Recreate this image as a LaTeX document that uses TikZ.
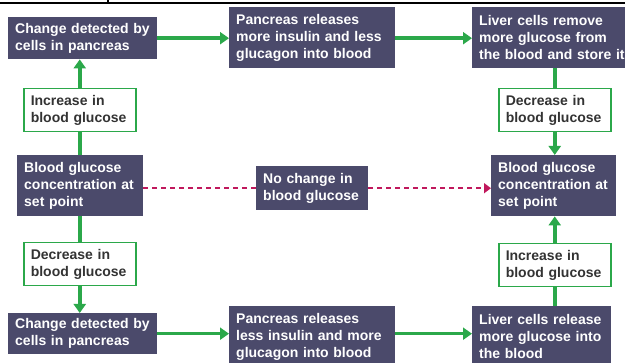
\documentclass[tikz,border=0pt]{standalone}
\usepackage{fontspec}
\setmainfont{Liberation Sans}
\usetikzlibrary{arrows.meta}
\definecolor{slate}{HTML}{4B4A6B}
\definecolor{leafgreen}{HTML}{2BA84A}
\definecolor{berry}{HTML}{C0185C}
\tikzset{
  dark/.style={fill=slate, text=white, anchor=north west, align=left, inner xsep=7pt, inner ysep=0pt, font=\bfseries\fontsize{14}{17}\selectfont},
  change/.style={draw=leafgreen, line width=1.5pt, fill=white, text=black!80, anchor=north west, align=left, inner xsep=7pt, inner ysep=0pt, text width=98pt, minimum height=43pt, font=\bfseries\fontsize{14}{17}\selectfont},
  flow/.style={leafgreen, line width=3.5pt, -{Triangle[width=12pt,length=9pt]}},
  link/.style={leafgreen, line width=3.5pt},
  steady/.style={berry, line width=1.8pt, dash pattern=on 5pt off 4pt}
}

\begin{document}
\begin{tikzpicture}[x=1pt,y=-1pt]
    \clip (0,0) rectangle (625,363);
    \draw [line width=2pt] (0,3) -- (625,3);
    \draw [line width=1.5pt] (108,0) -- (108,4);

    \node (detUp) [dark, text width=135pt, minimum height=42pt] at (8,17) {Change detected by\\cells in pancreas};
    \node (panUp) [dark, text width=152pt, minimum height=61pt] at (229,7) {Pancreas releases\\more insulin and less\\glucagon into blood};
    \node (livUp) [dark, text width=146pt, minimum height=61pt] at (472,7) {Liver cells remove\\more glucose from\\the blood and store it};
    \node (incL) [change] at (23,88) {Increase in\\blood glucose};
    \node (decR) [change] at (498,88) {Decrease in\\blood glucose};
    \node (setL) [dark, text width=112pt, minimum height=61pt] at (17,155) {Blood glucose\\concentration at\\set point};
    \node (same) [dark, text width=98pt, minimum height=44pt] at (256,166) {No change in\\blood glucose};
    \node (setR) [dark, text width=111pt, minimum height=61pt] at (491,155) {Blood glucose\\concentration at\\set point};
    \node (decL) [change] at (23,242) {Decrease in\\blood glucose};
    \node (incR) [change] at (498,243) {Increase in\\blood glucose};
    \node (detDn) [dark, text width=135pt, minimum height=41pt] at (8,313) {Change detected by\\cells in pancreas};
    \node (panDn) [dark, text width=152pt, minimum height=61pt] at (229,306) {Pancreas releases\\less insulin and more\\glucagon into blood};
    \node (livDn) [dark, text width=125pt, minimum height=61pt] at (472,306) {Liver cells release\\more glucose into\\the blood};

    \draw [flow] (detUp.east) -- (detUp.east -| panUp.west);
    \draw [flow] (panUp.east |- detUp.east) -- (detUp.east -| livUp.west);
    \draw [link] (decR.north) -- (decR.north |- livUp.south);
    \draw [flow] (decR.south) -- (decR.south |- setR.north);

    \draw [link] (setL.north -| incL.south) -- (incL.south);
    \draw [flow] (incL.north) -- (incL.north |- detUp.south);
    \draw [link] (setL.south -| decL.north) -- (decL.north);
    \draw [flow] (decL.south) -- (decL.south |- detDn.north);

    \draw [flow] (detDn.east) -- (detDn.east -| panDn.west);
    \draw [flow] (panDn.east |- detDn.east) -- (detDn.east -| livDn.west);
    \draw [link] (incR.south) -- (incR.south |- livDn.north);
    \draw [flow] (incR.north) -- (incR.north |- setR.south);

    \draw [steady] (setL.east |- same.west) -- (same.west);
    \draw [steady, -{Triangle[width=10pt,length=7pt]}] (same.east) -- (same.east -| setR.west);
\end{tikzpicture}
\end{document}
